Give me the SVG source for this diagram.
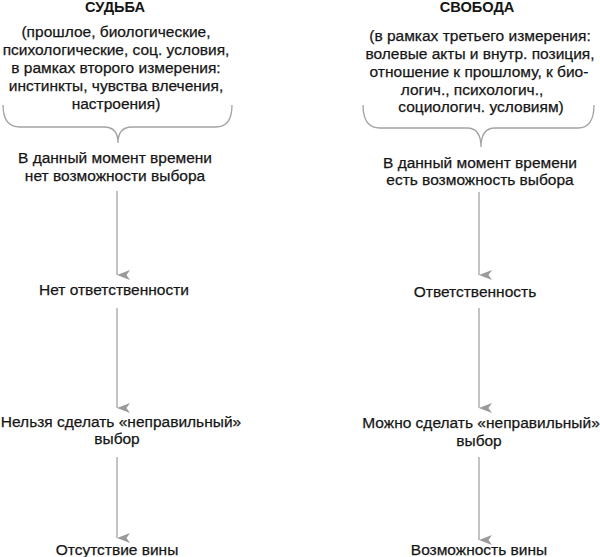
<svg xmlns="http://www.w3.org/2000/svg" width="600" height="557" viewBox="0 0 600 557">
<defs>
<style>
text{font-family:"Liberation Sans",Arial,sans-serif;font-size:15.5px;fill:#151515;stroke:#151515;stroke-width:0.25;text-anchor:middle}
.t{font-weight:bold;font-size:14.6px;stroke-width:0}
.ln{fill:none;stroke:#a3a3a3;stroke-width:1.3}
</style>
<marker id="ah" viewBox="0 0 10 13" refX="5" refY="13" markerWidth="10" markerHeight="13" markerUnits="userSpaceOnUse" orient="auto">
<path d="M0,0 L5,3.5 L10,0 L5,13 Z" fill="#9a9a9a"/>
</marker>
</defs>
<rect width="600" height="557" fill="#fff"/>
<g id="fate">
<text class="t" x="115" y="12">СУДЬБА</text>
<text x="116" y="37">(прошлое, биологические,</text>
<text x="116" y="55">психологические, соц. условия,</text>
<text x="116" y="73">в рамках второго измерения:</text>
<text x="116" y="91">инстинкты, чувства влечения,</text>
<text x="116" y="109">настроения)</text>
<path class="ln" d="M3,105 Q3,127 20,127 L104,127 Q118,127 118,143 Q118,127 132,127 L216,127 Q232,127 232,105"/>
</g>
<g id="fate-choice"><text x="115" y="163">В данный момент времени</text><text x="115" y="181">нет возможности выбора</text></g>
<g id="fate-resp"><text x="114" y="295">Нет ответственности</text></g>
<g id="fate-wrong"><text x="121" y="427">Нельзя сделать «неправильный»</text><text x="117" y="444">выбор</text></g>
<g id="fate-guilt"><text x="117" y="555">Отсутствие вины</text></g>

<g id="freedom">
<text class="t" x="477" y="12">СВОБОДА</text>
<text x="480" y="41">(в рамках третьего измерения:</text>
<text x="480" y="59">волевые акты и внутр. позиция,</text>
<text x="479" y="77">отношение к прошлому, к био-</text>
<text x="472" y="95">логич., психологич.,</text>
<text x="481" y="112">социологич. условиям)</text>
<path class="ln" d="M363,105 Q363,128 380,128 L467,128 Q481,128 481,147 Q481,128 495,128 L578,128 Q594,128 594,105"/>
</g>
<g id="free-choice"><text x="480" y="168">В данный момент времени</text><text x="480" y="185">есть возможность выбора</text></g>
<g id="free-resp"><text x="475" y="297">Ответственность</text></g>
<g id="free-wrong"><text x="481" y="428">Можно сделать «неправильный»</text><text x="479" y="446">выбор</text></g>
<g id="free-guilt"><text x="479" y="555">Возможность вины</text></g>

<g id="connectors">
<line class="ln" x1="117" y1="191" x2="117" y2="275" marker-end="url(#ah)"/>
<line class="ln" x1="117" y1="308" x2="117" y2="408" marker-end="url(#ah)"/>
<line class="ln" x1="117" y1="457" x2="117" y2="538" marker-end="url(#ah)"/>
<line class="ln" x1="479" y1="192" x2="479" y2="275" marker-end="url(#ah)"/>
<line class="ln" x1="479" y1="308" x2="479" y2="408" marker-end="url(#ah)"/>
<line class="ln" x1="479" y1="457" x2="479" y2="540" marker-end="url(#ah)"/>
</g>
</svg>
